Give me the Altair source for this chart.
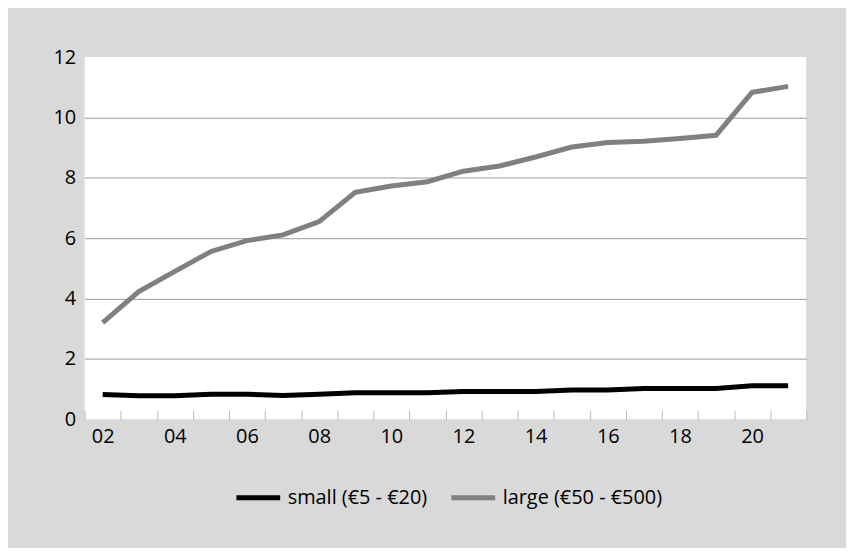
import altair as alt
import pandas as pd

years = ["02", "03", "04", "05", "06", "07", "08", "09", "10", "11",
         "12", "13", "14", "15", "16", "17", "18", "19", "20", "21"]
small = [0.82, 0.78, 0.78, 0.83, 0.83, 0.79, 0.83, 0.88, 0.88, 0.88,
         0.92, 0.92, 0.92, 0.97, 0.97, 1.02, 1.02, 1.02, 1.11, 1.11]
large = [3.2, 4.23, 4.9, 5.56, 5.92, 6.11, 6.55, 7.52, 7.73, 7.87,
         8.22, 8.39, 8.69, 9.02, 9.17, 9.21, 9.3, 9.41, 10.83, 11.03]
series_names = ["small (€5 - €20)", "large (€50 - €500)"]
series_colors = ["#000000", "#808080"]
y_ticks = [0, 2, 4, 6, 8, 10, 12]

rows = []
for name, vals in zip(series_names, [small, large]):
    for yr, v in zip(years, vals):
        rows.append({"year": yr, "value": v, "series": name})
df = pd.DataFrame(rows)

FONT = "Open Sans"
FS = 20
TXT = "#000000"

chart = alt.Chart(df).mark_line(strokeWidth=5, strokeJoin="miter").encode(
    x=alt.X(
        "year:O",
        sort=years,
        bandPosition=0.5,
        scale=alt.Scale(type="band", paddingInner=0, paddingOuter=0),
        axis=alt.Axis(
            title=None,
            domain=False,
            ticks=True,
            tickBand="extent",
            tickSize=9,
            tickColor="#b8b8b8",
            tickWidth=1,
            offset=-9,
            labelPadding=7,
            labelAngle=0,
            labelFont=FONT,
            labelFontSize=FS,
            labelColor=TXT,
            labelExpr="toNumber(datum.value) % 2 == 0 ? datum.label : ''",
            grid=False,
        ),
    ),
    y=alt.Y(
        "value:Q",
        scale=alt.Scale(domain=[0, 12], nice=False),
        axis=alt.Axis(
            title=None,
            values=y_ticks,
            domain=False,
            ticks=False,
            labelPadding=9,
            labelFont=FONT,
            labelFontSize=FS,
            labelColor=TXT,
            grid=True,
            gridColor="#9a9a9a",
            gridWidth=1,
            gridOpacity={"condition": {"test": "datum.value == 0 || datum.value == 12", "value": 0}, "value": 1},
        ),
    ),
    color=alt.Color(
        "series:N",
        sort=series_names,
        scale=alt.Scale(domain=series_names, range=series_colors),
        legend=alt.Legend(
            title=None,
            orient="none",
            direction="horizontal",
            legendX=150,
            legendY=418,
            symbolType="stroke",
            symbolSize=1936,
            symbolStrokeWidth=5,
            labelFont=FONT,
            labelFontSize=FS,
            labelColor=TXT,
            labelOffset=5,
            labelLimit=0,
            columnPadding=13,
        ),
    ),
).properties(
    width=725,
    height=364,
    background="#d9d9d9",
    padding={"left": 77, "top": 48, "right": 40, "bottom": 128},
    autosize=alt.AutoSizeParams(type="none"),
).configure_view(
    fill="white",
    stroke=None,
)

chart.save("out.html", embed_options={"renderer": "svg", "actions": False})
